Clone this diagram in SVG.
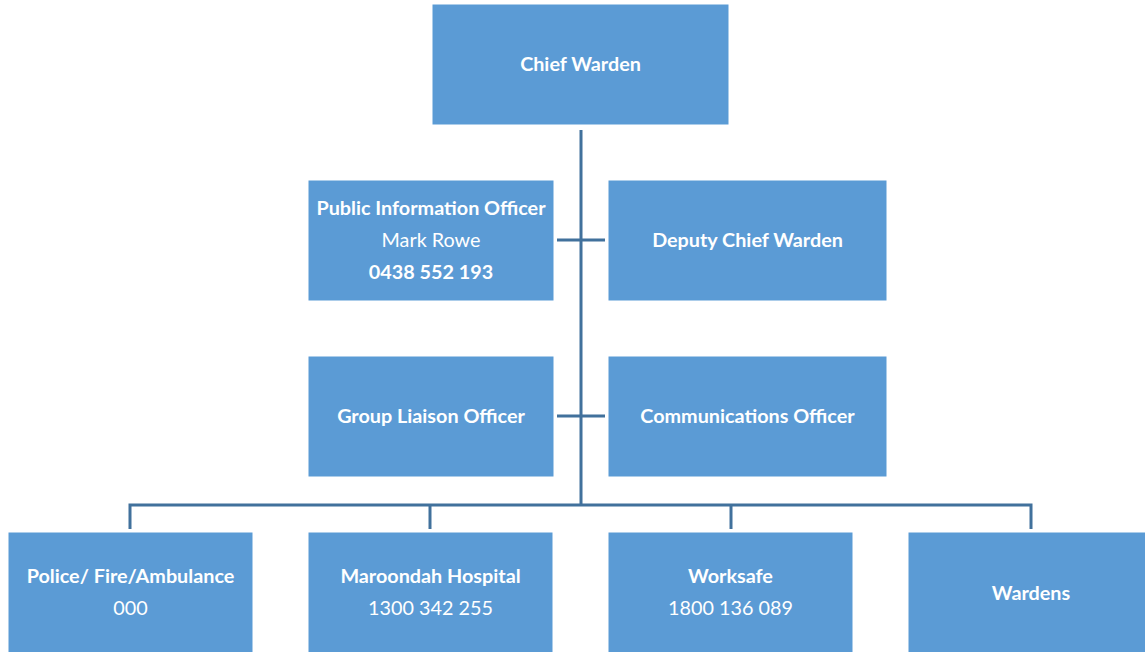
<svg xmlns="http://www.w3.org/2000/svg" width="1145" height="652" viewBox="0 0 1145 652">
<style>
.box{fill:#5B9BD5;stroke:#5B9BD5;stroke-width:1}
.t{font-family:Lato,"Open Sans","Liberation Sans",sans-serif;font-size:19.8px;fill:#fff;text-anchor:middle;dominant-baseline:central}
.b{font-weight:bold}
.c{fill:none;stroke:#41719C;stroke-width:3}
</style>
<rect width="1145" height="652" fill="#fff"/>
<g id="connectors">
<path class="c" d="M581 130V505"/>
<path class="c" d="M557 240H605"/>
<path class="c" d="M557 416H605"/>
<path class="c" d="M130 529V505H1031V529"/>
<path class="c" d="M430 505V529"/>
<path class="c" d="M731 505V529"/>
</g>
<g id="chief"><rect class="box" x="433" y="5" width="295" height="119"/><text class="t b" x="580.5" y="63">Chief Warden</text></g>
<g id="pio"><rect class="box" x="309" y="181" width="244" height="119"/><text class="t b" x="431" y="207">Public Information Officer</text><text class="t" x="431" y="239">Mark Rowe</text><text class="t b" x="431" y="271">0438 552 193</text></g>
<g id="deputy"><rect class="box" x="609" y="181" width="277" height="119"/><text class="t b" x="747.5" y="239">Deputy Chief Warden</text></g>
<g id="glo"><rect class="box" x="309" y="357" width="244" height="119"/><text class="t b" x="431" y="415">Group Liaison Officer</text></g>
<g id="comms"><rect class="box" x="609" y="357" width="277" height="119"/><text class="t b" x="747.5" y="415">Communications Officer</text></g>
<g id="police"><rect class="box" x="9" y="533" width="243" height="125"/><text class="t b" x="130.5" y="575">Police/ Fire/Ambulance</text><text class="t" x="130.5" y="607">000</text></g>
<g id="hospital"><rect class="box" x="309" y="533" width="243" height="125"/><text class="t b" x="430.5" y="575">Maroondah Hospital</text><text class="t" x="430.5" y="607">1300 342 255</text></g>
<g id="worksafe"><rect class="box" x="609" y="533" width="243" height="125"/><text class="t b" x="730.5" y="575">Worksafe</text><text class="t" x="730.5" y="607">1800 136 089</text></g>
<g id="wardens"><rect class="box" x="909" y="533" width="240" height="125"/><text class="t b" x="1031" y="592">Wardens</text></g>
</svg>
